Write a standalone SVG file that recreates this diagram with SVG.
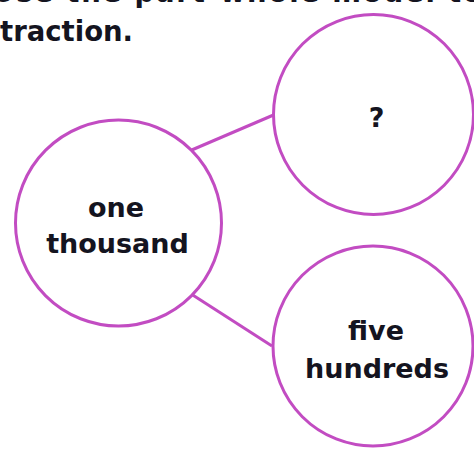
<svg xmlns="http://www.w3.org/2000/svg" width="474" height="450" viewBox="0 0 474 450">
<style>
.c{fill:#fff;stroke:#c24cc2;stroke-width:3}
.l{stroke:#c24cc2;stroke-width:3;fill:none}
.t{font-family:"DejaVu Sans","Liberation Sans",sans-serif;font-weight:bold;font-size:27px;fill:#141420;text-anchor:middle}
.h{font-family:"DejaVu Sans","Liberation Sans",sans-serif;font-weight:bold;font-size:27.5px;fill:#141420}
</style>
<rect width="474" height="450" fill="#fff"/>
<text class="h" x="-8" y="2" textLength="490" lengthAdjust="spacing">Use the part-whole model to</text>
<text class="h" x="0" y="41">traction.</text>
<g id="connectors">
<line class="l" x1="191.7" y1="150" x2="273.5" y2="115"/>
<line class="l" x1="192.7" y1="295" x2="272" y2="346"/>
</g>
<g id="whole">
<circle class="c" cx="118.5" cy="223" r="103"/>
<text class="t" x="116" y="217">one</text>
<text class="t" x="117.5" y="253">thousand</text>
</g>
<g id="part-top">
<circle class="c" cx="373.5" cy="114.5" r="100"/>
<text class="t" x="376.5" y="127">?</text>
</g>
<g id="part-bottom">
<circle class="c" cx="373" cy="346" r="100"/>
<text class="t" x="376" y="340">five</text>
<text class="t" x="377" y="378">hundreds</text>
</g>
</svg>
